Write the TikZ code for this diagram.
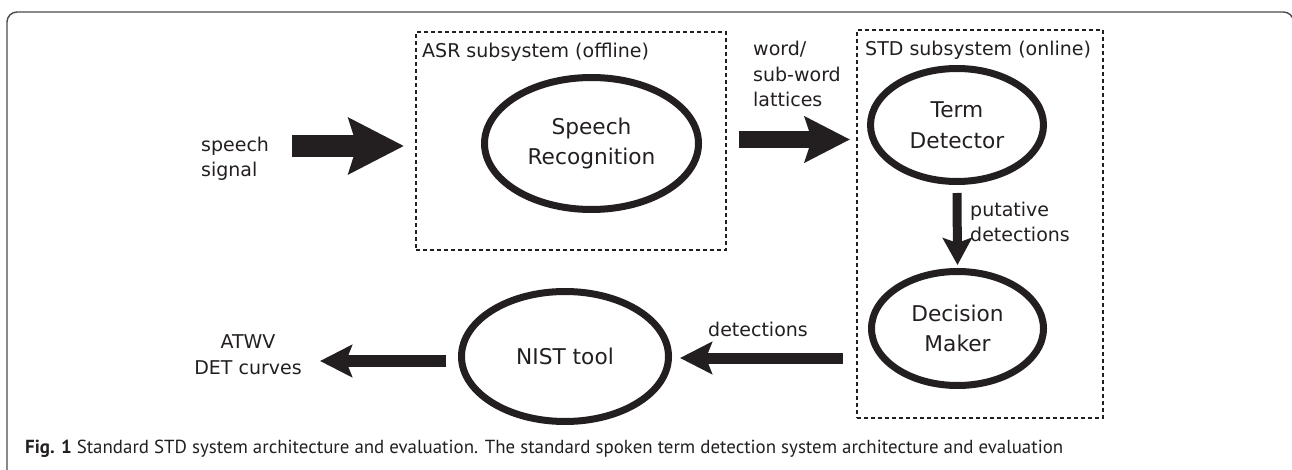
\documentclass[tikz,border=0pt]{standalone}
\usepackage{fontspec}
\setmainfont{DejaVu Sans}
\newfontfamily\capfont{PT Sans}
\usetikzlibrary{shapes.geometric,arrows.meta}
\definecolor{ink}{HTML}{231F20}
\definecolor{framec}{HTML}{4A4A4A}
\begin{document}
\begin{tikzpicture}[x=1pt,y=-1pt,
  proc/.style={ellipse,draw=ink,line width=7pt,inner sep=0pt,align=center,text=ink,
    font=\fontsize{21.7}{30.5}\selectfont},
  lbl/.style={text=ink,inner sep=0pt,font=\fontsize{19}{25.5}\selectfont},
  subsys/.style={draw=ink,line width=1.1pt,dash pattern=on 4pt off 3pt},
  flow/.style={draw=ink,fill=ink}
]
\useasboundingbox (0,0) rectangle (1292,470);

% outer frame
\draw[framec,line width=1.4pt,rounded corners=10pt] (7,475) -- (7,12) -- (1293.5,12) -- (1293.5,475);

% subsystem boxes
\node[subsys,minimum width=310pt,minimum height=218pt,inner sep=0pt] (asrbox) at (571,141) {};
\node[subsys,minimum width=246pt,minimum height=388pt,inner sep=0pt] (stdbox) at (980,224) {};
\node[lbl,anchor=base west] (asrlbl) at (422,57.3) {ASR subsystem (offline)};
\node[lbl,anchor=base west] (stdlbl) at (865,55.5) {STD subsystem (online)};

% processes
\node[proc,minimum width=214pt,minimum height=132pt] (sr) at (591.5,143.5) {Speech\\Recognition};
\node[proc,minimum width=173pt,minimum height=113pt] (td) at (957,125) {Term\\Detector};
\node[proc,minimum width=172pt,minimum height=114pt] (dm) at (957.5,328.5) {Decision\\Maker};
\node[proc,minimum width=207pt,minimum height=130pt] (nist) at (565,356.5) {NIST tool};

% labels (base anchor = baseline of last line)
\node[lbl,anchor=base west,align=left] (speech) at (201,176.7) {speech\\signal};
\node[lbl,anchor=base west,align=left] (lat) at (753,106.7) {word/\\sub-word\\lattices};
\node[lbl,anchor=base west,align=left] (put) at (970,241.7) {putative\\detections};
\node[lbl,anchor=base west] (det) at (708,336.7) {detections};
\node[lbl,anchor=base,align=center] (atwv) at (248,374) {ATWV\\DET curves};

% arrow end points
\coordinate (sigS) at (292,146);
\coordinate (sigE) at (404,146);
\coordinate (latS) at (739,139.5);
\coordinate (latE) at (850,139.5);
\coordinate (detS) at (843,358);
\coordinate (detE) at (680,358);
\coordinate (outS) at (446,361);
\coordinate (outE) at (320,361);

% connectors
\draw[ink,line width=22pt,-{Stealth[length=55pt,width=55pt,inset=8pt]}] (sigS) -- (sigE);
\draw[ink,line width=17pt,-{Stealth[length=45pt,width=45pt,inset=7pt]}] (latS) -- (latE);
\draw[ink,line width=9pt,-{Stealth[length=27pt,width=29pt,inset=5pt]}] ([yshift=-8pt]td.south) -- ([yshift=3pt]dm.north);
\draw[ink,line width=11pt,-{Stealth[length=32pt,width=32pt,inset=6pt]}] (detS) -- (detE);
\draw[ink,line width=12pt,-{Stealth[length=32pt,width=32pt,inset=6pt]}] (outS) -- (outE);

% caption
\node[anchor=base west,inner sep=0pt,text=ink,font=\capfont\fontsize{18.9}{22}\selectfont] (cap) at (25,453)
  {\textbf{Fig. 1} Standard STD system architecture and evaluation. The standard spoken term detection system architecture and evaluation};
\end{tikzpicture}
\end{document}
